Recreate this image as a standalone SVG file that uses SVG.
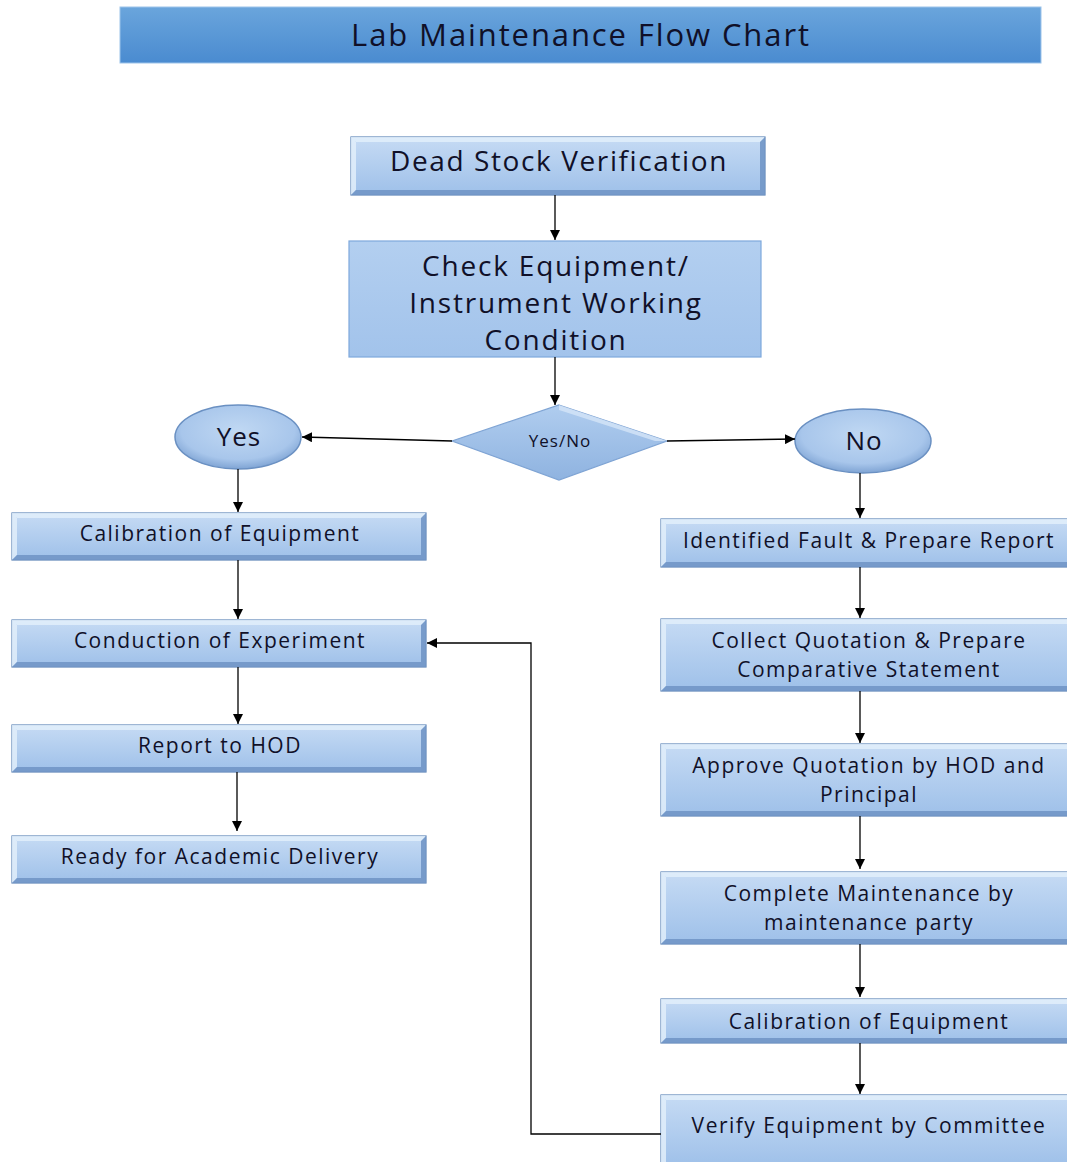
<svg xmlns="http://www.w3.org/2000/svg" width="1067" height="1162" viewBox="0 0 1067 1162">
<defs>
<linearGradient id="gTitle" x1="0" y1="0" x2="0" y2="1">
<stop offset="0" stop-color="#6aa5dc"/><stop offset="1" stop-color="#4a8bd0"/>
</linearGradient>
<linearGradient id="gBox" x1="0" y1="0" x2="0" y2="1">
<stop offset="0" stop-color="#c6dbf4"/><stop offset="1" stop-color="#9ec0e9"/>
</linearGradient>
<linearGradient id="gFlat" x1="0" y1="0" x2="0" y2="1">
<stop offset="0" stop-color="#b3cff0"/><stop offset="1" stop-color="#a2c3eb"/>
</linearGradient>
<radialGradient id="gEll" cx="0.5" cy="0.4" r="0.6">
<stop offset="0" stop-color="#c0d8f3"/><stop offset="0.75" stop-color="#a8c6eb"/><stop offset="1" stop-color="#7fa4d4"/>
</radialGradient>
<linearGradient id="gDia" x1="0" y1="0" x2="0" y2="1">
<stop offset="0" stop-color="#b0cdef"/><stop offset="1" stop-color="#8fb3e0"/>
</linearGradient>
<marker id="arr" viewBox="0 0 10 10" refX="10" refY="5" markerWidth="10" markerHeight="10" markerUnits="userSpaceOnUse" orient="auto">
<path d="M0,0 L10,5 L0,10 z" fill="#000"/>
</marker>
</defs>
<style>
.box{fill:url(#gBox);stroke:#5f86b8;stroke-width:1.2}
.hi{fill:#e2eefa;opacity:0.85}
.sh{fill:#7196c6;opacity:0.9}
.flat{fill:url(#gFlat);stroke:#7ea8dc;stroke-width:1.2}
.ell{fill:url(#gEll);stroke:#6a90c2;stroke-width:1.5}
.dia{fill:url(#gDia);stroke:#7fa4d4;stroke-width:1.2}
.t{font-family:"Open Sans","DejaVu Sans",sans-serif;fill:#101028;text-anchor:middle}
.s{font-size:21px;letter-spacing:1.5px}
.c{font-size:28px;letter-spacing:1.8px}
.conn line,.conn polyline{stroke:#000;stroke-width:1.3;fill:none;marker-end:url(#arr)}
</style>
<rect width="1067" height="1162" fill="#fff"/>

<g id="title">
<rect x="120" y="7" width="921" height="56" fill="url(#gTitle)" stroke="#9cc3ea" stroke-width="1"/>
<text class="t" x="581" y="46" font-size="31" letter-spacing="1.9">Lab Maintenance Flow Chart</text>
</g>

<g id="n_deadstock">
<rect class="box" x="351" y="137" width="414" height="58"/>
<path class="hi" d="M351,137 H765 L760,142 H356 Z M351,137 V195 L356,190 V142 Z"/>
<path class="sh" d="M351,195 H765 L760,190 H356 Z M765,137 V195 L760,190 V142 Z"/>
<text class="t" x="559" y="171" font-size="28" letter-spacing="1.6">Dead Stock Verification</text>
</g>

<g id="n_check">
<rect class="flat" x="349" y="241" width="412" height="116"/>
<text class="t c" x="556" y="276">Check Equipment/</text>
<text class="t c" x="556" y="313">Instrument Working</text>
<text class="t c" x="556" y="350">Condition</text>
</g>

<g id="n_decision">
<polygon class="dia" points="559,405 667,441 559,480 452,441"/>
<path d="M559,405 L667,441 L655,441 L559,410 Z" fill="#d5e5f7" opacity="0.8"/>
<text class="t" x="560" y="447" font-size="17" letter-spacing="1">Yes/No</text>
</g>

<g id="n_yes">
<ellipse class="ell" cx="238" cy="437" rx="63" ry="32"/>
<text class="t" x="239" y="446" font-size="26" letter-spacing="1">Yes</text>
</g>

<g id="n_no">
<ellipse class="ell" cx="863" cy="441" rx="68" ry="32"/>
<text class="t" x="864" y="450" font-size="26" letter-spacing="1">No</text>
</g>

<g id="n_calib_l">
<rect class="box" x="12" y="513" width="414" height="47"/>
<path class="hi" d="M12,513 H426 L421,518 H17 Z M12,513 V560 L17,555 V518 Z"/>
<path class="sh" d="M12,560 H426 L421,555 H17 Z M426,513 V560 L421,555 V518 Z"/>
<text class="t s" x="220" y="541">Calibration of Equipment</text>
</g>

<g id="n_conduct">
<rect class="box" x="12" y="620" width="414" height="47"/>
<path class="hi" d="M12,620 H426 L421,625 H17 Z M12,620 V667 L17,662 V625 Z"/>
<path class="sh" d="M12,667 H426 L421,662 H17 Z M426,620 V667 L421,662 V625 Z"/>
<text class="t s" x="220" y="648">Conduction of Experiment</text>
</g>

<g id="n_report">
<rect class="box" x="12" y="725" width="414" height="47"/>
<path class="hi" d="M12,725 H426 L421,730 H17 Z M12,725 V772 L17,767 V730 Z"/>
<path class="sh" d="M12,772 H426 L421,767 H17 Z M426,725 V772 L421,767 V730 Z"/>
<text class="t s" x="220" y="753">Report to HOD</text>
</g>

<g id="n_ready">
<rect class="box" x="12" y="836" width="414" height="47"/>
<path class="hi" d="M12,836 H426 L421,841 H17 Z M12,836 V883 L17,878 V841 Z"/>
<path class="sh" d="M12,883 H426 L421,878 H17 Z M426,836 V883 L421,878 V841 Z"/>
<text class="t s" x="220" y="864">Ready for Academic Delivery</text>
</g>

<g id="n_fault">
<rect class="box" x="661" y="519" width="412" height="48"/>
<path class="hi" d="M661,519 H1073 L1068,524 H666 Z M661,519 V567 L666,562 V524 Z"/>
<path class="sh" d="M661,567 H1073 L1068,562 H666 Z"/>
<text class="t s" x="869" y="548">Identified Fault &amp; Prepare Report</text>
</g>

<g id="n_quote">
<rect class="box" x="661" y="619" width="412" height="72"/>
<path class="hi" d="M661,619 H1073 L1068,624 H666 Z M661,619 V691 L666,686 V624 Z"/>
<path class="sh" d="M661,691 H1073 L1068,686 H666 Z"/>
<text class="t s" x="869" y="648">Collect Quotation &amp; Prepare</text>
<text class="t s" x="869" y="677">Comparative Statement</text>
</g>

<g id="n_approve">
<rect class="box" x="661" y="744" width="412" height="72"/>
<path class="hi" d="M661,744 H1073 L1068,749 H666 Z M661,744 V816 L666,811 V749 Z"/>
<path class="sh" d="M661,816 H1073 L1068,811 H666 Z"/>
<text class="t s" x="869" y="773">Approve Quotation by HOD and</text>
<text class="t s" x="869" y="802">Principal</text>
</g>

<g id="n_complete">
<rect class="box" x="661" y="872" width="412" height="72"/>
<path class="hi" d="M661,872 H1073 L1068,877 H666 Z M661,872 V944 L666,939 V877 Z"/>
<path class="sh" d="M661,944 H1073 L1068,939 H666 Z"/>
<text class="t s" x="869" y="901">Complete Maintenance by</text>
<text class="t s" x="869" y="930">maintenance party</text>
</g>

<g id="n_calib_r">
<rect class="box" x="661" y="999" width="412" height="44"/>
<path class="hi" d="M661,999 H1073 L1068,1004 H666 Z M661,999 V1043 L666,1038 V1004 Z"/>
<path class="sh" d="M661,1043 H1073 L1068,1038 H666 Z"/>
<text class="t s" x="869" y="1029">Calibration of Equipment</text>
</g>

<g id="n_verify">
<rect class="box" x="661" y="1095" width="412" height="72"/>
<path class="hi" d="M661,1095 H1073 L1068,1100 H666 Z M661,1095 V1167 L666,1162 V1100 Z"/>
<text class="t s" x="869" y="1133">Verify Equipment by Committee</text>
</g>

<g id="connectors" class="conn">
<line x1="555" y1="195" x2="555" y2="240"/>
<line x1="555" y1="357" x2="555" y2="405"/>
<line x1="452" y1="441" x2="302" y2="437"/>
<line x1="667" y1="441" x2="795" y2="439"/>
<line x1="238" y1="469" x2="238" y2="512"/>
<line x1="238" y1="560" x2="238" y2="619"/>
<line x1="238" y1="667" x2="238" y2="724"/>
<line x1="237" y1="772" x2="237" y2="831"/>
<line x1="860" y1="473" x2="860" y2="518"/>
<line x1="860" y1="567" x2="860" y2="618"/>
<line x1="860" y1="691" x2="860" y2="743"/>
<line x1="860" y1="816" x2="860" y2="869"/>
<line x1="860" y1="944" x2="860" y2="997"/>
<line x1="860" y1="1043" x2="860" y2="1094"/>
<polyline points="661,1134 531,1134 531,643 427,643"/>
</g>
</svg>
